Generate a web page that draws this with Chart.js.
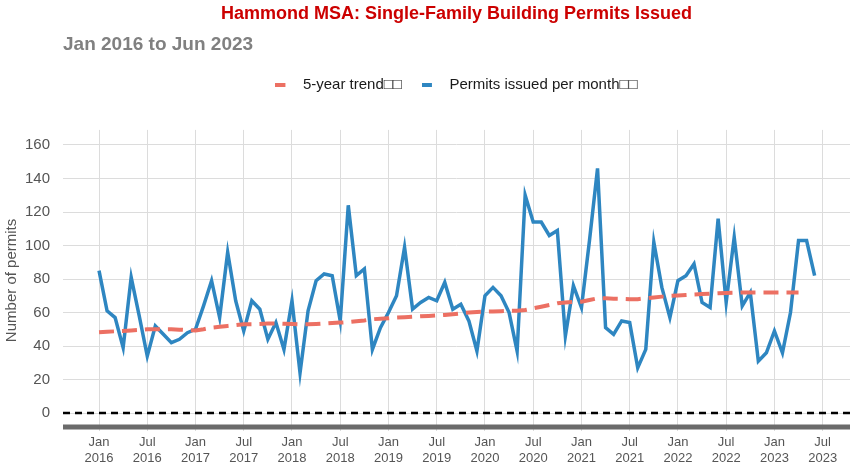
<!DOCTYPE html>
<html>
<head>
<meta charset="utf-8">
<script src="https://cdn.jsdelivr.net/npm/chart.js@4.4.1/dist/chart.umd.min.js"></script>
<style>
  html, body { margin: 0; padding: 0; background: #fff; }
  #wrap { width: 850px; height: 464px; position: relative; }
</style>
</head>
<body>
<div id="wrap"><canvas id="myChart"></canvas></div>
<script>
// months since Jan 2016 (0 = Jan 2016 ... 89 = Jun 2023)
var monthNames = ['Jan', 'Feb', 'Mar', 'Apr', 'May', 'Jun', 'Jul', 'Aug', 'Sep', 'Oct', 'Nov', 'Dec'];
var startYear = 2016;

// permits issued per month, Jan 2016 - Jun 2023
var permits = [
  85, 61, 57, 39, 81, 58, 34, 52, 47, 42, 44, 48,
  50, 64, 79, 57, 96, 67, 49, 67, 62, 44, 54, 38,
  67, 24, 61, 79, 83, 82, 55, 124, 82, 86, 38, 51,
  60, 70, 99, 62, 66, 69, 67, 78, 62, 65, 55, 37,
  70, 75, 70, 60, 37, 130, 114, 114, 106, 109, 46, 76,
  63, 103, 146, 51, 47, 55, 54, 27, 38, 102, 75, 57,
  79, 82, 89, 66, 63, 116, 66, 105, 64, 72, 31, 36,
  49, 36, 60, 103, 103, 82
];

// 5-year trend, Jan 2016 - Apr 2023
var trend = [
  48.2, 48.5, 48.8, 49, 49.3, 49.6, 50, 50, 50, 50, 49.8, 49.5,
  49.3, 50, 51, 51.5, 52, 52.5, 53, 53, 53.2, 53.5, 53.5, 53.3,
  53.2, 53, 53, 53.2, 53.5, 53.8, 54, 54.3, 54.8, 55.3, 56, 56.3,
  56.6, 57, 57.2, 57.5, 57.8, 58, 58.3, 58.6, 59, 59.5, 60, 60.3,
  60.5, 60.6, 60.8, 61, 61, 61.5, 62.5, 63.5, 64.5, 65.5, 66, 66.3,
  66.5, 67.5, 68.5, 68.5, 68.3, 68.2, 68, 68, 68.5, 69, 69.5, 70,
  70.2, 70.5, 70.8, 71, 71.3, 71.5, 71.7, 71.8, 72, 72, 72, 72,
  72, 72, 72, 72
];

var yTicks = [0, 20, 40, 60, 80, 100, 120, 140, 160];
var xMin = -4.48, xMax = 93.4;
var yMin = -10.7, yMax = 169;
var baseY = -8.3;

var trendColor = '#EC7063';
var permitColor = '#2E86C1';

function pts(arr) {
  return arr.map(function (v, i) { return { x: i, y: v }; });
}

// legend key: short bar on the left of a 20px wide slot
function legendKey(color) {
  var c = document.createElement('canvas');
  c.width = 20;
  c.height = 4;
  var g = c.getContext('2d');
  g.fillStyle = color;
  g.fillRect(0, 0, 10, 4);
  return c;
}

var ctx = document.getElementById('myChart').getContext('2d');
var myChart = new Chart(ctx, {
  type: 'line',
  data: {
    datasets: [{
      label: '5-year trend\u25A1\u25A1',
      data: pts(trend),
      borderColor: trendColor,
      backgroundColor: trendColor,
      borderWidth: 4,
      borderDash: [15, 8],
      pointRadius: 0
    }, {
      label: 'Permits issued per month\u25A1\u25A1',
      data: pts(permits),
      borderColor: permitColor,
      backgroundColor: permitColor,
      borderWidth: 3.5,
      pointRadius: 0
    }, {
      label: 'zero',
      data: [{ x: xMin, y: 0 }, { x: xMax, y: 0 }],
      borderColor: '#000',
      borderWidth: 2.5,
      borderDash: [7, 5],
      pointRadius: 0
    }, {
      label: 'base',
      data: [{ x: xMin, y: baseY }, { x: xMax, y: baseY }],
      borderColor: '#6b6b6b',
      borderWidth: 5,
      pointRadius: 0
    }]
  },
  options: {
    responsive: true,
    maintainAspectRatio: false,
    animation: false,
    layout: { padding: 0 },
    plugins: {
      title: {
        display: true,
        fullSize: false,
        text: 'Hammond MSA: Single-Family Building Permits Issued',
        color: '#CC0000',
        font: { family: 'Liberation Sans', size: 18, weight: 'bold' },
        padding: { top: 3, bottom: 9 }
      },
      subtitle: {
        display: true,
        fullSize: false,
        align: 'start',
        text: 'Jan 2016 to Jun 2023',
        color: '#808080',
        font: { family: 'Liberation Sans', size: 19, weight: 'bold' },
        padding: { top: 0, bottom: 1 }
      },
      legend: {
        display: true,
        fullSize: false,
        labels: {
          generateLabels: function (chart) {
            var items = Chart.defaults.plugins.legend.labels.generateLabels(chart);
            items.forEach(function (it) {
              it.pointStyle = legendKey(it.fillStyle);
              it.lineWidth = 0;
            });
            return items;
          },
          filter: function (item) { return item.datasetIndex < 2; },
          usePointStyle: true,
          pointStyleWidth: 20,
          boxHeight: 4,
          padding: 20,
          color: '#1a1a1a',
          font: { family: 'Liberation Sans', size: 15 }
        }
      },
      tooltip: { enabled: false }
    },
    scales: {
      x: {
        type: 'linear',
        min: xMin,
        max: xMax,
        border: { display: false },
        grid: { color: '#dcdcdc', lineWidth: 1, drawTicks: false },
        afterFit: function (s) { s.height = 33; },
        ticks: {
          stepSize: 6,
          includeBounds: false,
          autoSkip: false,
          maxRotation: 0,
          padding: 4,
          color: '#555',
          font: { family: 'Liberation Sans', size: 13 },
          callback: function (v) {
            var m = Math.round(v);
            return [monthNames[m % 12], String(startYear + Math.floor(m / 12))];
          }
        }
      },
      // empty top axis, only keeps the gap between legend and panel
      gap: {
        type: 'linear',
        position: 'top',
        axis: 'x',
        min: 0,
        max: 1,
        display: true,
        border: { display: false },
        grid: { display: false },
        ticks: { display: false },
        afterFit: function (s) { s.height = 27.5; }
      },
      y: {
        min: yMin,
        max: yMax,
        border: { display: false },
        grid: { color: '#dcdcdc', lineWidth: 1, drawTicks: false },
        afterBuildTicks: function (axis) {
          axis.ticks = yTicks.map(function (v) { return { value: v }; });
        },
        afterFit: function (s) { s.width = 63; },
        ticks: {
          padding: 13,
          color: '#555',
          font: { family: 'Liberation Sans', size: 15 }
        },
        title: {
          display: true,
          text: 'Number of permits',
          color: '#555',
          font: { family: 'Liberation Sans', size: 15 },
          padding: { top: 3, bottom: 0 }
        }
      }
    }
  }
});
</script>
</body>
</html>
